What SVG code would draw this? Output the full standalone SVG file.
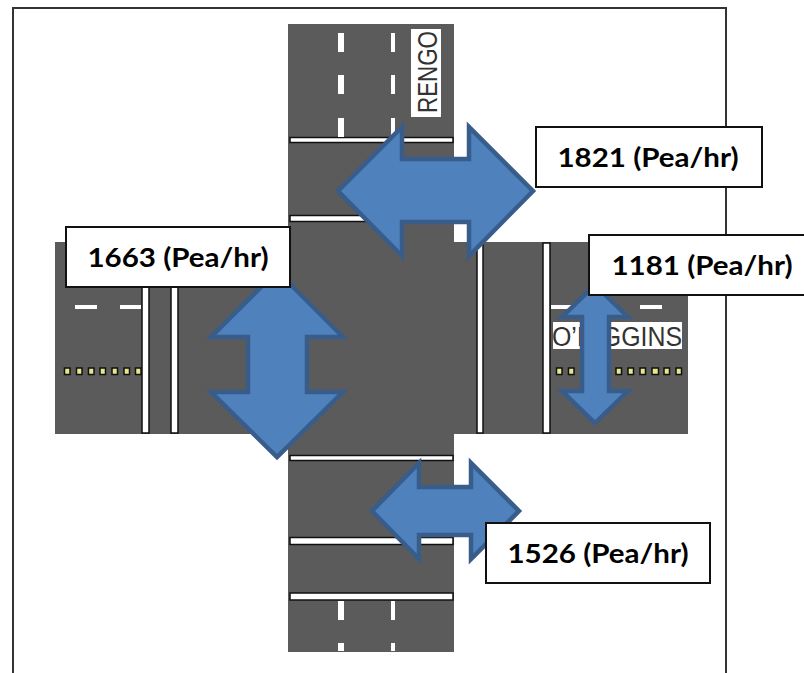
<svg xmlns="http://www.w3.org/2000/svg" width="804" height="673" viewBox="0 0 804 673">
<style>
.frame{fill:none;stroke:#333;stroke-width:2}
.road{fill:#5b5b5b}
.bar{fill:#fff;stroke:#111;stroke-width:1.5}
.dash{fill:#fff}
.dot{fill:#e6e88c;stroke:#111;stroke-width:1.5}
.plate{fill:#fff}
.street{font-family:"Liberation Sans",Arial,sans-serif;font-size:27px;fill:#333}
.arrow{fill:#4f81bd;stroke:#385d8a;stroke-width:4.500;stroke-linejoin:miter}
.box{fill:#fff;stroke:#111;stroke-width:2}
.lab{font-family:Lato,"Liberation Sans",Arial,sans-serif;font-weight:700;font-size:26px;fill:#000;text-anchor:middle}
</style>
<rect width="804" height="673" fill="#fff"/>
<path class="frame" d="M13 673V8H726V673"/>
<g id="roads">
<rect class="road" x="288" y="24" width="166" height="628"/>
<rect class="road" x="55" y="242" width="633" height="192"/>
<rect x="454" y="226" width="16" height="16" fill="#fff"/>
</g>
<g id="crossings">
<rect class="bar" x="290" y="137.500" width="163" height="5"/>
<rect class="bar" x="290" y="215.500" width="163" height="6"/>
<rect class="bar" x="290" y="455.500" width="163" height="5"/>
<rect class="bar" x="290" y="537.500" width="163" height="7"/>
<rect class="bar" x="290" y="593" width="163" height="7"/>
<rect class="bar" x="142" y="243" width="7" height="190"/>
<rect class="bar" x="171" y="243" width="7" height="190"/>
<rect class="bar" x="477" y="243" width="6" height="190"/>
<rect class="bar" x="543" y="243" width="7" height="190"/>
</g>
<g id="lane-marks">
<rect class="dash" x="338" y="33" width="6" height="19"/><rect class="dash" x="338" y="75" width="6" height="19"/><rect class="dash" x="338" y="118" width="6" height="19"/>
<rect class="dash" x="391" y="33" width="4" height="19"/><rect class="dash" x="391" y="75" width="4" height="19"/><rect class="dash" x="391" y="118" width="4" height="19"/>
<rect class="dash" x="338" y="601" width="6" height="19"/><rect class="dash" x="338" y="643" width="6" height="8"/>
<rect class="dash" x="391" y="601" width="4" height="19"/><rect class="dash" x="391" y="643" width="4" height="8"/>
<rect class="dash" x="75" y="305" width="22" height="4"/><rect class="dash" x="120" y="305" width="21" height="4"/>
<rect class="dash" x="551" y="305" width="21" height="4"/><rect class="dash" x="640" y="305" width="22" height="4"/>
<rect class="dot" x="64.500" y="368" width="5.500" height="6.500"/><rect class="dot" x="76.500" y="368" width="5.500" height="6.500"/><rect class="dot" x="88.500" y="368" width="5.500" height="6.500"/><rect class="dot" x="100" y="368" width="5.500" height="6.500"/><rect class="dot" x="112" y="368" width="5.500" height="6.500"/><rect class="dot" x="124" y="368" width="5.500" height="6.500"/><rect class="dot" x="135.500" y="368" width="5.500" height="6.500"/>
<rect class="dot" x="556.500" y="368" width="5.500" height="6.500"/><rect class="dot" x="568.500" y="368" width="5.500" height="6.500"/><rect class="dot" x="616" y="368" width="5.500" height="6.500"/><rect class="dot" x="628" y="368" width="5.500" height="6.500"/><rect class="dot" x="640" y="368" width="5.500" height="6.500"/><rect class="dot" x="652" y="368" width="6.500" height="6.500"/><rect class="dot" x="664" y="368" width="5.500" height="6.500"/><rect class="dot" x="676" y="368" width="5.500" height="6.500"/>
</g>
<g id="street-rengo">
<rect class="plate" x="411" y="29" width="30" height="88"/>
<text class="street" transform="translate(437 113) rotate(-90)" textLength="82" lengthAdjust="spacingAndGlyphs">RENGO</text>
</g>
<g id="street-ohiggins">
<rect class="plate" x="553" y="322" width="129" height="27"/>
<text class="street" x="552" y="346" textLength="130" lengthAdjust="spacingAndGlyphs">O’HIGGINS</text>
</g>
<g id="connectors">
<path class="arrow" d="M338 191L402 127V159H469V127L533 191L469 256V222H402V256Z"/>
<path class="arrow" d="M277 271L343 337H307V392H343L277 457L211 392H248V337H211Z"/>
<path class="arrow" d="M595 285L628 317H609V391H628L595 423L562 391H582V317H562Z"/>
<path class="arrow" d="M372 511L419 463V487H471V463L519 511L471 559V535H419V559Z"/>
</g>
<g id="label-1821"><rect class="box" x="536" y="127" width="226" height="60"/><text class="lab" x="648" y="167" textLength="181" lengthAdjust="spacingAndGlyphs">1821 (Pea/hr)</text></g>
<g id="label-1663"><rect class="box" x="66" y="227" width="224" height="60"/><text class="lab" x="178" y="267" textLength="181" lengthAdjust="spacingAndGlyphs">1663 (Pea/hr)</text></g>
<g id="label-1181"><rect class="box" x="589" y="235" width="216" height="60"/><text class="lab" x="702" y="275" textLength="181" lengthAdjust="spacingAndGlyphs">1181 (Pea/hr)</text></g>
<g id="label-1526"><rect class="box" x="486" y="523" width="224" height="60"/><text class="lab" x="598" y="563" textLength="181" lengthAdjust="spacingAndGlyphs">1526 (Pea/hr)</text></g>
</svg>
